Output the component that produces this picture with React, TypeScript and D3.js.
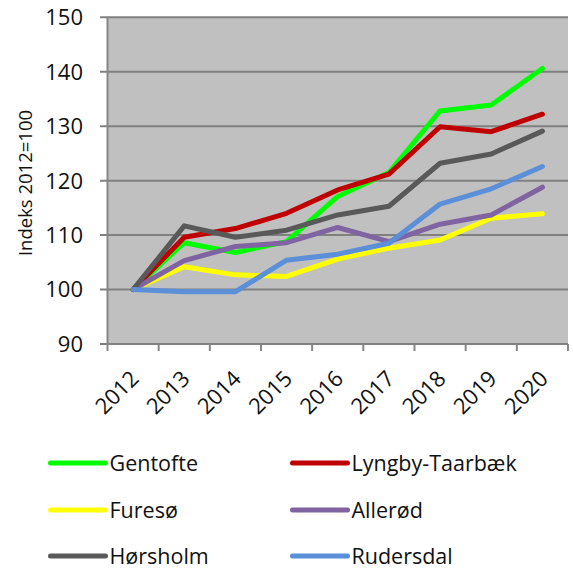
import React from "react";
import * as d3 from "d3";

const years = ["2012", "2013", "2014", "2015", "2016", "2017", "2018", "2019", "2020"];
const gentofte = [100, 108.6, 106.8, 108.8, 117.1, 121.5, 132.8, 133.9, 140.6];
const lyngby = [100, 109.6, 111.2, 114.0, 118.3, 121.2, 129.9, 129.0, 132.2];
const fureso = [100, 104.2, 102.7, 102.4, 105.6, 107.6, 109.1, 113.1, 113.9];
const allerod = [100, 105.3, 107.9, 108.6, 111.4, 108.8, 112.0, 113.7, 118.8];
const horsholm = [100, 111.7, 109.6, 110.9, 113.7, 115.3, 123.2, 124.9, 129.1];
const rudersdal = [100, 99.6, 99.6, 105.4, 106.5, 108.5, 115.7, 118.5, 122.6];
const yTicks = [90, 100, 110, 120, 130, 140, 150];

const series = [
  { name: "Gentofte", values: gentofte, color: "#00ff00" },
  { name: "Lyngby-Taarbæk", values: lyngby, color: "#c00000" },
  { name: "Furesø", values: fureso, color: "#ffff00" },
  { name: "Allerød", values: allerod, color: "#8064a2" },
  { name: "Hørsholm", values: horsholm, color: "#595959" },
  { name: "Rudersdal", values: rudersdal, color: "#5b8fd8" },
];

const FONT = "'Open Sans', sans-serif";

export default function App() {
  const W = 573, H = 571;
  const left = 107.5, right = 568, top = 17.3, bottom = 344;
  const x = d3.scaleBand().domain(years).range([left, right]);
  const y = d3.scaleLinear().domain([90, 150]).range([bottom, top]);
  const line = d3
    .line<number>()
    .x((_, i) => (x(years[i]) as number) + x.bandwidth() / 2)
    .y((v) => y(v));
  const boundaries = years.map((yr) => x(yr) as number).concat([right]);

  const legendRows = [463, 510, 556];
  const legendCols = [50.5, 292.5];

  return (
    <svg
      width={W}
      height={H}
      style={{ position: "absolute", left: 0, top: 0, background: "#fff" }}
      fontFamily={FONT}
    >
      <rect x={left} y={top} width={right - left} height={bottom - top} fill="#c0c0c0" />
      {yTicks.map((t) => (
        <g key={t}>
          <line x1={left - 7.5} x2={right} y1={y(t)} y2={y(t)} stroke="#808080" strokeWidth={2} />
          <text x={83} y={y(t)} dy="0.36em" textAnchor="end" fontSize={22} fill="#111">
            {t}
          </text>
        </g>
      ))}
      <line x1={left} x2={left} y1={top} y2={bottom} stroke="#868686" strokeWidth={2} />
      {boundaries.map((bx, i) => (
        <line key={i} x1={bx} x2={bx} y1={bottom} y2={bottom + 7} stroke="#868686" strokeWidth={2} />
      ))}
      {years.map((yr) => (
        <text
          key={yr}
          transform={`translate(${(x(yr) as number) + x.bandwidth() / 2 + 7},${380}) rotate(-45)`}
          textAnchor="end"
          fontSize={22}
          fill="#111"
        >
          {yr}
        </text>
      ))}
      <text
        transform={`translate(32,${183}) rotate(-90)`}
        textAnchor="middle"
        fontSize={18.5}
        fill="#111"
      >
        Indeks 2012=100
      </text>
      {series.map((s) => (
        <path
          key={s.name}
          d={line(s.values) as string}
          fill="none"
          stroke={s.color}
          strokeWidth={5}
          strokeLinejoin="round"
          strokeLinecap="round"
        />
      ))}
      {series.map((s, i) => {
        const col = i % 2;
        const row = Math.floor(i / 2);
        const lx = legendCols[col];
        const ly = legendRows[row];
        return (
          <g key={s.name}>
            <line x1={lx} x2={lx + 55} y1={ly} y2={ly} stroke={s.color} strokeWidth={5} strokeLinecap="round" />
            <text x={lx + 59} y={ly} dy="0.36em" fontSize={21.5} fill="#111">
              {s.name}
            </text>
          </g>
        );
      })}
    </svg>
  );
}
